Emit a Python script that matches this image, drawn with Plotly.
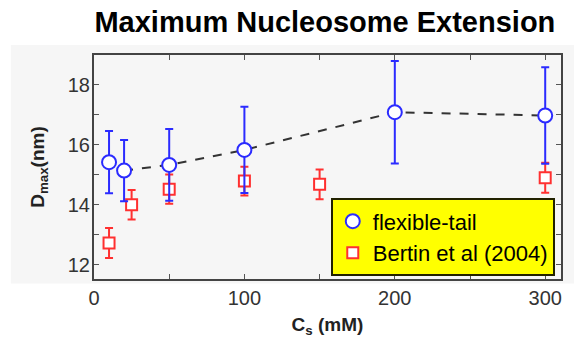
import plotly.graph_objects as go

# flexible-tail (simulation)
ft_x = [10, 20, 50, 100, 200, 300]
ft_y = [15.42, 15.14, 15.33, 15.83, 17.09, 16.98]
ft_err = [1.04, 1.02, 1.2, 1.44, 1.71, 1.61]

# dashed guide line through simulation points
line_x = [20, 50, 100, 200, 300]
line_y = [15.14, 15.33, 15.83, 17.09, 16.98]

# Bertin et al (2004)
be_x = [10, 25, 50, 100, 150, 300]
be_y = [12.72, 14.0, 14.52, 14.79, 14.68, 14.9]
be_err = [0.5, 0.49, 0.49, 0.48, 0.5, 0.5]

BLUE = "#2b2bff"
RED = "#ff3030"

fig = go.Figure()

fig.add_trace(go.Scatter(
    x=line_x, y=line_y, mode="lines",
    line=dict(color="#333333", width=2, dash="dash"),
    showlegend=False, hoverinfo="skip"))

fig.add_trace(go.Scatter(
    x=be_x, y=be_y, mode="markers", name="Bertin et al (2004)",
    marker=dict(symbol="square", size=11, color="white",
                line=dict(color=RED, width=2)),
    error_y=dict(type="data", array=be_err, color=RED, thickness=2, width=4)))

fig.add_trace(go.Scatter(
    x=ft_x, y=ft_y, mode="markers", name="flexible-tail",
    marker=dict(symbol="circle", size=14, color="white",
                line=dict(color=BLUE, width=2)),
    error_y=dict(type="data", array=ft_err, color=BLUE, thickness=2, width=4)))

fig.update_layout(
    width=574, height=343,
    margin=dict(l=94, r=11, t=55, b=63),
    paper_bgcolor="white",
    plot_bgcolor="#f8f8f8",
    font=dict(family="Liberation Sans, Arial, sans-serif", color="#222222"),
    title=dict(text="<b>Maximum Nucleosome Extension</b>",
               font=dict(size=29, color="black"),
               x=0.566, xanchor="center", y=0.935, yanchor="middle"),
    legend=dict(x=0.507, y=0.36, xanchor="left", yanchor="top",
                bgcolor="#ffff00", bordercolor="#222200", borderwidth=2,
                font=dict(size=22, color="black"),
                traceorder="reversed", itemwidth=30,
                tracegroupgap=0),
    shapes=[dict(type="rect", xref="paper", yref="paper",
                 x0=-0.178, x1=1.03, y0=-0.02, y1=1.045,
                 fillcolor="#f6f6f6", line=dict(width=0), layer="below")],
)

fig.update_xaxes(
    range=[0, 310.5], tickvals=[0, 100, 200, 300],
    ticks="inside", ticklen=5, tickwidth=1, tickcolor="#555555",
    minor=dict(tickvals=[50, 150, 250], ticks="inside", ticklen=5, tickcolor="#555555"),
    showline=True, linecolor="#444444", linewidth=2, mirror="allticks",
    showgrid=False, zeroline=False,
    tickfont=dict(size=20, color="#333333"),
    title=dict(text="<b>C<sub>s</sub> (mM)</b>", font=dict(size=19, color="#222222"), standoff=10))

fig.update_yaxes(
    range=[11.52, 19.0], tickvals=[12, 14, 16, 18],
    ticks="inside", ticklen=5, tickwidth=1, tickcolor="#555555",
    minor=dict(tickvals=[13, 15, 17], ticks="inside", ticklen=5, tickcolor="#555555"),
    showline=True, linecolor="#444444", linewidth=2, mirror="allticks",
    showgrid=False, zeroline=False, ticklabelstandoff=-2,
    tickfont=dict(size=20, color="#333333"),
    title=dict(text="<b>D<sub>max</sub>(nm)</b>", font=dict(size=19, color="#222222"), standoff=18))

fig.write_html("out.html")
